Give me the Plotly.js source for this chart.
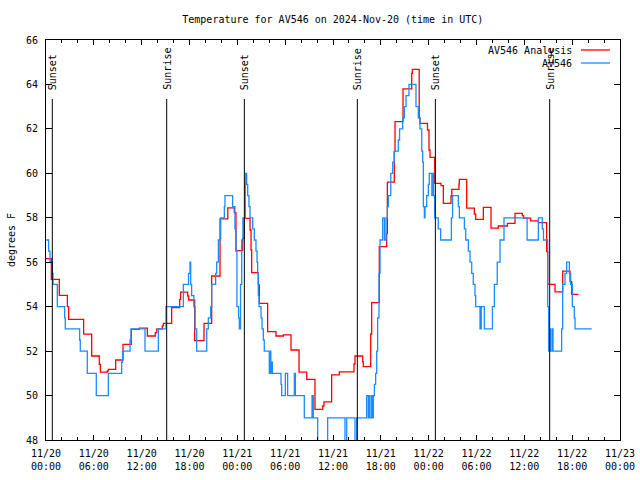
<!DOCTYPE html>
<html>
<head>
<meta charset="utf-8">
<script src="https://cdn.plot.ly/plotly-3.0.1.min.js"></script>
<style>html,body{margin:0;padding:0;background:#fff;}#chart{width:640px;height:480px;}</style>
</head>
<body>
<div id="chart"></div>
<script>
// Hours after 2024-11-20 00:00 UTC, and temperature (degrees F)
const analysisHours = [0,0.67,1.67,2.68,2.84,4.72,5.73,6.69,6.82,7.69,7.82,8.74,9.66,10.7,11.71,12.71,13.71,13.9,14.59,14.72,15.76,16.77,16.89,17.77,17.9,18.65,19.82,20.78,21.83,22.8,23.62,23.83,24.67,24.84,25.59,25.72,25.8,26.63,26.76,27.8,28.85,29.77,30.73,31.74,32.7,33.74,34.71,34.87,35.83,36.79,38.63,38.76,39.72,39.8,40.73,40.85,41.81,42.73,42.82,43.69,43.78,44.78,45.87,45.95,46.81,46.91,47.85,48.04,48.17,48.76,49.55,49.84,50.8,50.9,51.8,51.85,52.77,53.73,53.9,54.86,55.82,56.74,57.88,58.83,59.75,59.9,60.8,61.76,62.8,62.93,63.85,64.81,65.73,65.94,66.8];
const analysisTemps = [56.16,55.23,54.51,54.0,53.43,52.76,51.78,51.4,51.05,51.1,51.18,51.6,52.3,52.98,53.03,52.68,52.83,53.0,53.14,53.25,53.96,54.33,54.65,54.48,54.3,52.47,53.25,55.38,57.95,58.45,58.23,56.52,57.07,57.97,57.45,56.55,55.53,54.98,54.15,52.88,52.68,52.73,52.05,51.05,50.73,49.38,49.53,49.72,50.93,51.07,51.42,51.78,51.52,51.3,52.77,54.18,56.7,57.3,59.6,60.98,62.33,63.8,64.5,64.68,62.48,62.25,61.95,61.05,60.72,59.55,59.45,58.65,58.98,59.28,59.52,59.73,58.43,58.17,57.93,58.47,57.53,57.63,57.75,58.2,58.1,57.98,57.86,57.78,56.48,55.0,54.67,55.6,55.13,54.55,54.55];

const stationHours = [0,0.33,0.5,0.8,0.88,1.42,2.34,2.42,4.22,4.3,5.18,6.31,7.82,9.49,9.6,10.54,10.66,12.42,14.09,15.05,17.23,17.88,18.06,18.15,18.27,18.55,18.7,18.9,20.16,20.36,20.66,20.78,21.28,21.41,21.62,21.91,22.37,22.45,23.41,23.7,23.83,23.95,24.15,24.25,24.4,24.55,24.7,25.0,25.05,25.17,25.3,25.46,25.59,25.93,26.13,26.34,26.47,26.55,26.63,26.72,26.97,27.1,27.26,27.38,28.01,28.14,28.2,28.3,28.4,29.48,29.56,30.02,30.31,31.15,31.28,32.4,33.37,33.53,34.08,35.33,37.5,37.72,38.76,38.97,40.22,40.43,40.56,40.64,40.85,40.98,41.06,41.19,41.35,41.48,41.6,41.77,41.9,42.23,42.45,42.65,42.82,42.94,43.25,43.49,43.69,44.19,44.35,44.74,44.95,45.16,45.53,46.41,46.7,46.91,47.13,47.25,47.33,47.46,47.54,47.75,47.96,48.08,48.4,48.45,48.62,48.75,49.2,49.5,50.85,51.0,51.72,51.85,52.48,52.65,52.98,53.19,53.4,53.6,53.81,53.9,54.44,54.6,54.98,56.0,56.24,56.6,56.95,57.45,60.35,61.76,62.25,62.4,62.93,63.05,63.22,63.3,63.5,63.6,64.68,64.81,65.1,65.31,65.65,65.81,66.02,66.27,66.36,68.45];
const stationTemps = [57.0,56.5,56.0,55.5,55.0,54.0,53.5,53.0,52.5,52.0,51.0,50.0,51.0,51.5,52.0,52.5,53.0,52.0,53.0,54.0,55.0,55.5,56.0,55.0,54.5,54.0,53.0,52.0,53.0,53.5,54.0,55.0,55.5,56.0,57.0,58.0,58.5,59.0,58.5,57.5,56.5,54.0,53.5,53.0,55.0,57.0,58.0,59.5,60.0,59.5,59.0,58.5,58.0,57.5,57.0,56.5,56.0,55.5,54.5,54.0,53.5,53.0,52.5,52.0,51.0,52.0,51.0,51.5,51.0,50.5,50.0,51.0,50.0,51.0,50.0,49.0,50.0,49.0,47.5,49.0,47.5,49.0,47.5,49.0,50.0,49.0,50.0,49.0,50.0,49.0,50.0,50.5,51.0,52.0,53.5,55.5,57.0,58.0,57.0,58.0,58.5,59.0,60.0,60.5,61.0,61.5,62.0,62.5,63.0,63.5,64.0,63.0,62.5,62.0,61.0,60.5,58.5,58.0,58.5,59.0,59.5,60.0,59.0,60.0,59.0,58.0,57.5,57.0,58.0,59.0,58.5,58.0,57.5,57.0,56.5,56.0,55.5,55.0,54.5,54.0,53.0,54.0,53.0,54.0,55.0,56.0,57.0,58.0,57.0,58.0,57.5,57.0,54.0,52.0,53.0,52.0,53.0,52.0,53.0,55.0,55.5,56.0,55.5,55.0,54.0,53.5,53.0,53.0];

const sunsetHours = [0.79, 24.88, 48.84];
const sunriseHours = [15.14, 39.05, 63.18];

const titleText = 'Temperature for AV546 on 2024-Nov-20 (time in UTC)';
const seriesNames = ['AV546 Analysis', 'AV546'];
const seriesColors = ['#ff0000', '#1a8cff'];

const baseMs = Date.UTC(2024, 10, 20, 0, 0, 0);
function toDate(h) {
  return new Date(baseMs + h * 3600000).toISOString().replace('T', ' ').slice(0, 19);
}

const FONT = {family: 'DejaVu Sans Mono, Liberation Mono, monospace', size: 10, color: '#000'};

const traces = [
  {x: analysisHours.map(toDate), y: analysisTemps, name: seriesNames[0], type: 'scatter', mode: 'lines',
   line: {shape: 'hv', color: seriesColors[0], width: 1.3}, showlegend: false, hoverinfo: 'skip'},
  {x: stationHours.map(toDate), y: stationTemps, name: seriesNames[1], type: 'scatter', mode: 'lines',
   line: {shape: 'hv', color: seriesColors[1], width: 1.3}, showlegend: false, hoverinfo: 'skip'}
];

const shapes = [];
const annotations = [];
function addSunLine(h, label) {
  shapes.push({type: 'line', xref: 'x', yref: 'paper', x0: toDate(h), x1: toDate(h), y0: 0, y1: 0.8525,
               line: {color: '#000', width: 1}, layer: 'above'});
  annotations.push({xref: 'x', yref: 'paper', x: toDate(h), y: 0.87, text: label, textangle: -90,
                    showarrow: false, xanchor: 'center', yanchor: 'bottom', font: FONT});
}
sunsetHours.forEach(h => addSunLine(h, 'Sunset'));
sunriseHours.forEach(h => addSunLine(h, 'Sunrise'));

// gnuplot-style key (text, then line sample) in the top right
const keyY = [0.975, 0.9425];
seriesNames.forEach((n, i) => {
  annotations.push({xref: 'paper', yref: 'paper', x: 0.9199, y: keyY[i], text: n, showarrow: false,
                    xanchor: 'right', yanchor: 'middle', font: FONT});
  shapes.push({type: 'line', xref: 'paper', yref: 'paper', x0: 0.932, x1: 0.9826, y0: keyY[i], y1: keyY[i],
               line: {color: seriesColors[i], width: 1.3}});
});

const layout = {
  width: 640, height: 480,
  margin: {l: 46, r: 20, t: 40, b: 40, pad: 0},
  paper_bgcolor: '#fff', plot_bgcolor: '#fff',
  title: {text: titleText, font: FONT, x: 0.52, xanchor: 'center', xref: 'container', y: 1 - 19/480, yanchor: 'middle', yref: 'container'},
  showlegend: false,
  xaxis: {
    type: 'date', range: [toDate(0), toDate(72)],
    tick0: toDate(0), dtick: 6 * 3600000, tickformat: '%m/%d<br>%H:%M',
    ticks: 'inside', ticklen: 5, tickcolor: '#000', tickwidth: 1,
    minor: {dtick: 2 * 3600000, ticks: 'inside', ticklen: 3, tickcolor: '#000', showgrid: false},
    showline: true, linecolor: '#000', linewidth: 1, mirror: 'ticks',
    showgrid: false, zeroline: false, tickfont: FONT, ticklabelstandoff: 4
  },
  yaxis: {
    range: [48, 66], tick0: 48, dtick: 2,
    ticks: 'inside', ticklen: 6, tickcolor: '#000', tickwidth: 1,
    showline: true, linecolor: '#000', linewidth: 1, mirror: 'ticks',
    showgrid: false, zeroline: false, tickfont: FONT, ticklabelstandoff: 5,
    title: {text: 'degrees F', font: FONT, standoff: 8}
  },
  shapes: shapes,
  annotations: annotations
};

Plotly.newPlot('chart', traces, layout, {staticPlot: true, displayModeBar: false});
</script>
</body>
</html>
